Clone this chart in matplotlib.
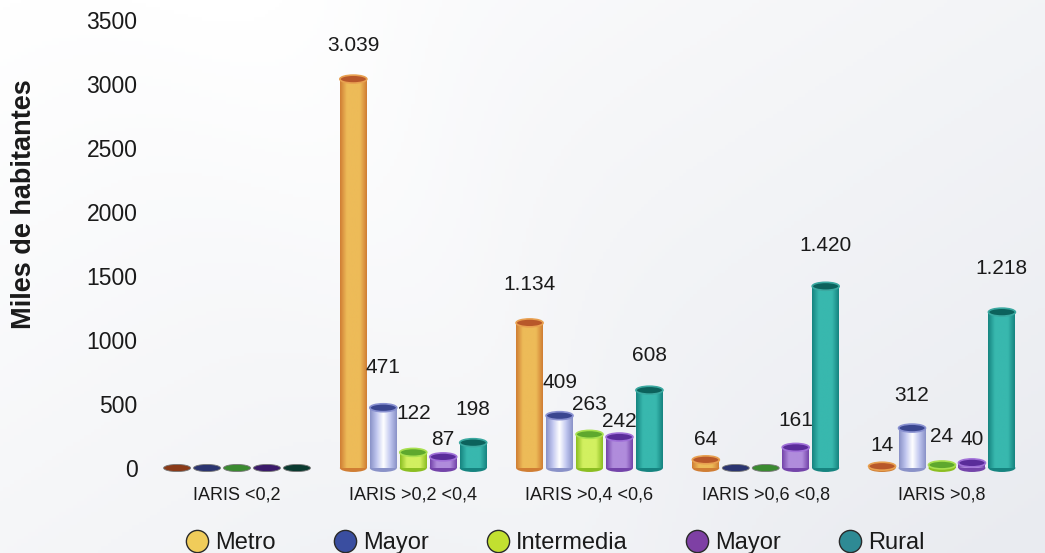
import numpy as np
import matplotlib
matplotlib.use("Agg")
import matplotlib.pyplot as plt
from matplotlib.patches import Ellipse
from matplotlib.lines import Line2D
from matplotlib.colors import LinearSegmentedColormap, to_rgb

plt.rcParams['font.family'] = ['Liberation Sans', 'DejaVu Sans']

# ---------------------------------------------------------------------------
# Data (miles de habitantes)
# ---------------------------------------------------------------------------
groups = ['IARIS <0,2', 'IARIS >0,2 <0,4', 'IARIS >0,4 <0,6',
          'IARIS >0,6 <0,8', 'IARIS >0,8']
series_names = ['Metro', 'Mayor', 'Intermedia', 'Mayor', 'Rural']

metro = [0, 3039, 1134, 64, 14]
mayor = [0, 471, 409, 0, 312]
intermedia = [0, 122, 263, 0, 24]
mayor_b = [0, 87, 242, 161, 40]
rural = [0, 198, 608, 1420, 1218]
series = [metro, mayor, intermedia, mayor_b, rural]

# label lift above each cylinder (pixels), staggered so neighbours don't collide
label_lift = [
    [0, 34, 38, 20, 21],
    [0, 40, 33, 0, 33],
    [0, 39, 30, 0, 28],
    [0, 17, 16, 27, 23],
    [0, 33, 35, 41, 44],
]

# cylinder colours: (side edge, side centre, top face, top rim)
cyl_colors = [
    ('#D07E34', '#EDBB58', '#B8582A', '#E8A050'),
    ('#8A92C8', '#C2C8F0', '#3A4690', '#8890D0'),
    ('#8CBE22', '#D2F060', '#5EA82E', '#A8E050'),
    ('#7444AA', '#B08CDC', '#5A2C9A', '#A070D8'),
    ('#168480', '#38B8AE', '#0C625C', '#3AA8A0'),
]
zero_colors = ['#8A3A18', '#2A3470', '#3A8A30', '#3A1A6A', '#0A3A30']
legend_colors = ['#F0CC5A', '#3A4EA0', '#C2E030', '#7E40A4', '#2E8A94']

fig = plt.figure(figsize=(10.45, 5.53), dpi=100)

# soft background: bright at top-left, greyer towards bottom-right
bg = fig.add_axes([0, 0, 1, 1], zorder=-10)
gx, gy = np.meshgrid(np.linspace(0, 1, 300), np.linspace(0, 1, 160))
shade = np.clip(0.55 * gx + 0.45 * gy - 0.15 * np.exp(-((gx - 0.25 - 0.3 * gy) ** 2) / 0.02), 0, 1)
top = np.array(to_rgb('#FFFFFF'))
low = np.array(to_rgb('#E9EBF0'))
bg_img = top[None, None, :] * (1 - shade[..., None]) + low[None, None, :] * shade[..., None]
bg.imshow(bg_img, aspect='auto', extent=(0, 1, 0, 1), origin='upper')
bg.axis('off')

ax = fig.add_axes([0.1435, 0.1398, 0.8517, 0.847])
ax.patch.set_alpha(0)

x_lim = (-0.494, 4.556)
y_lim = (-60, 3600)
bar_step = 0.170
bar_w = 0.153
ell_h = 62.0  # cylinder cap height in data units

profile = np.linspace(0, 1, 64)[None, :]

for k, (vals, cols) in enumerate(zip(series, cyl_colors)):
    edge, centre, cap, rim = cols
    cmap = LinearSegmentedColormap.from_list(
        f'cyl{k}', [edge, centre, '#FFFFFF' if k == 1 else centre, centre, edge])
    for g, v in enumerate(vals):
        x = g + (k - 2) * bar_step
        x0, x1 = x - bar_w / 2, x + bar_w / 2
        if v == 0:
            ax.add_patch(Ellipse((x, 0), bar_w, ell_h * 0.9,
                                 facecolor=zero_colors[k], edgecolor='#777777',
                                 lw=0.6, zorder=3))
            continue
        # rounded base
        ax.add_patch(Ellipse((x, 0), bar_w, ell_h, facecolor=edge,
                             edgecolor='none', zorder=1.9))
        # body with horizontal shading
        ax.imshow(profile, cmap=cmap, aspect='auto', extent=(x0, x1, 0, v),
                  interpolation='bilinear', zorder=2)
        # top cap
        ax.add_patch(Ellipse((x, v), bar_w, ell_h, facecolor=cap,
                             edgecolor=rim, lw=1.2, zorder=3))
        label = f'{v:,}'.replace(',', '.')
        ax.annotate(label, (x, v), xytext=(0, label_lift[k][g] * 0.72),
                    textcoords='offset points', ha='center', va='center',
                    fontsize=15, color='#1a1a1a', zorder=4)

ax.set_xlim(*x_lim)
ax.set_ylim(*y_lim)
ax.set_yticks(np.arange(0, 3501, 500))
ax.set_yticklabels([str(t) for t in range(0, 3501, 500)], fontsize=16.5,
                   color='#1a1a1a')
ax.set_xticks(range(len(groups)))
ax.set_xticklabels(groups, fontsize=13, color='#1a1a1a')
ax.tick_params(axis='y', length=0, pad=9)
ax.tick_params(axis='x', length=0, pad=8)
for sp in ax.spines.values():
    sp.set_visible(False)

fig.text(24 / 1045, 1 - 204 / 553, 'Miles de habitantes', rotation=90,
         ha='center', va='center', fontsize=19.5, fontweight='bold',
         color='#1a1a1a')

handles = [Line2D([], [], ls='none', marker='o', markersize=16,
                  markerfacecolor=c, markeredgecolor='#2a2a2a',
                  markeredgewidth=1.0) for c in legend_colors]
fig.legend(handles, series_names, loc='center', ncol=5,
           bbox_to_anchor=(555 / 1045, 1 - 543 / 553), frameon=False,
           fontsize=17, handlelength=1.0, handletextpad=0.25,
           columnspacing=2.45, borderpad=0, labelcolor='#1a1a1a')

fig.savefig('out.png', dpi=100)
